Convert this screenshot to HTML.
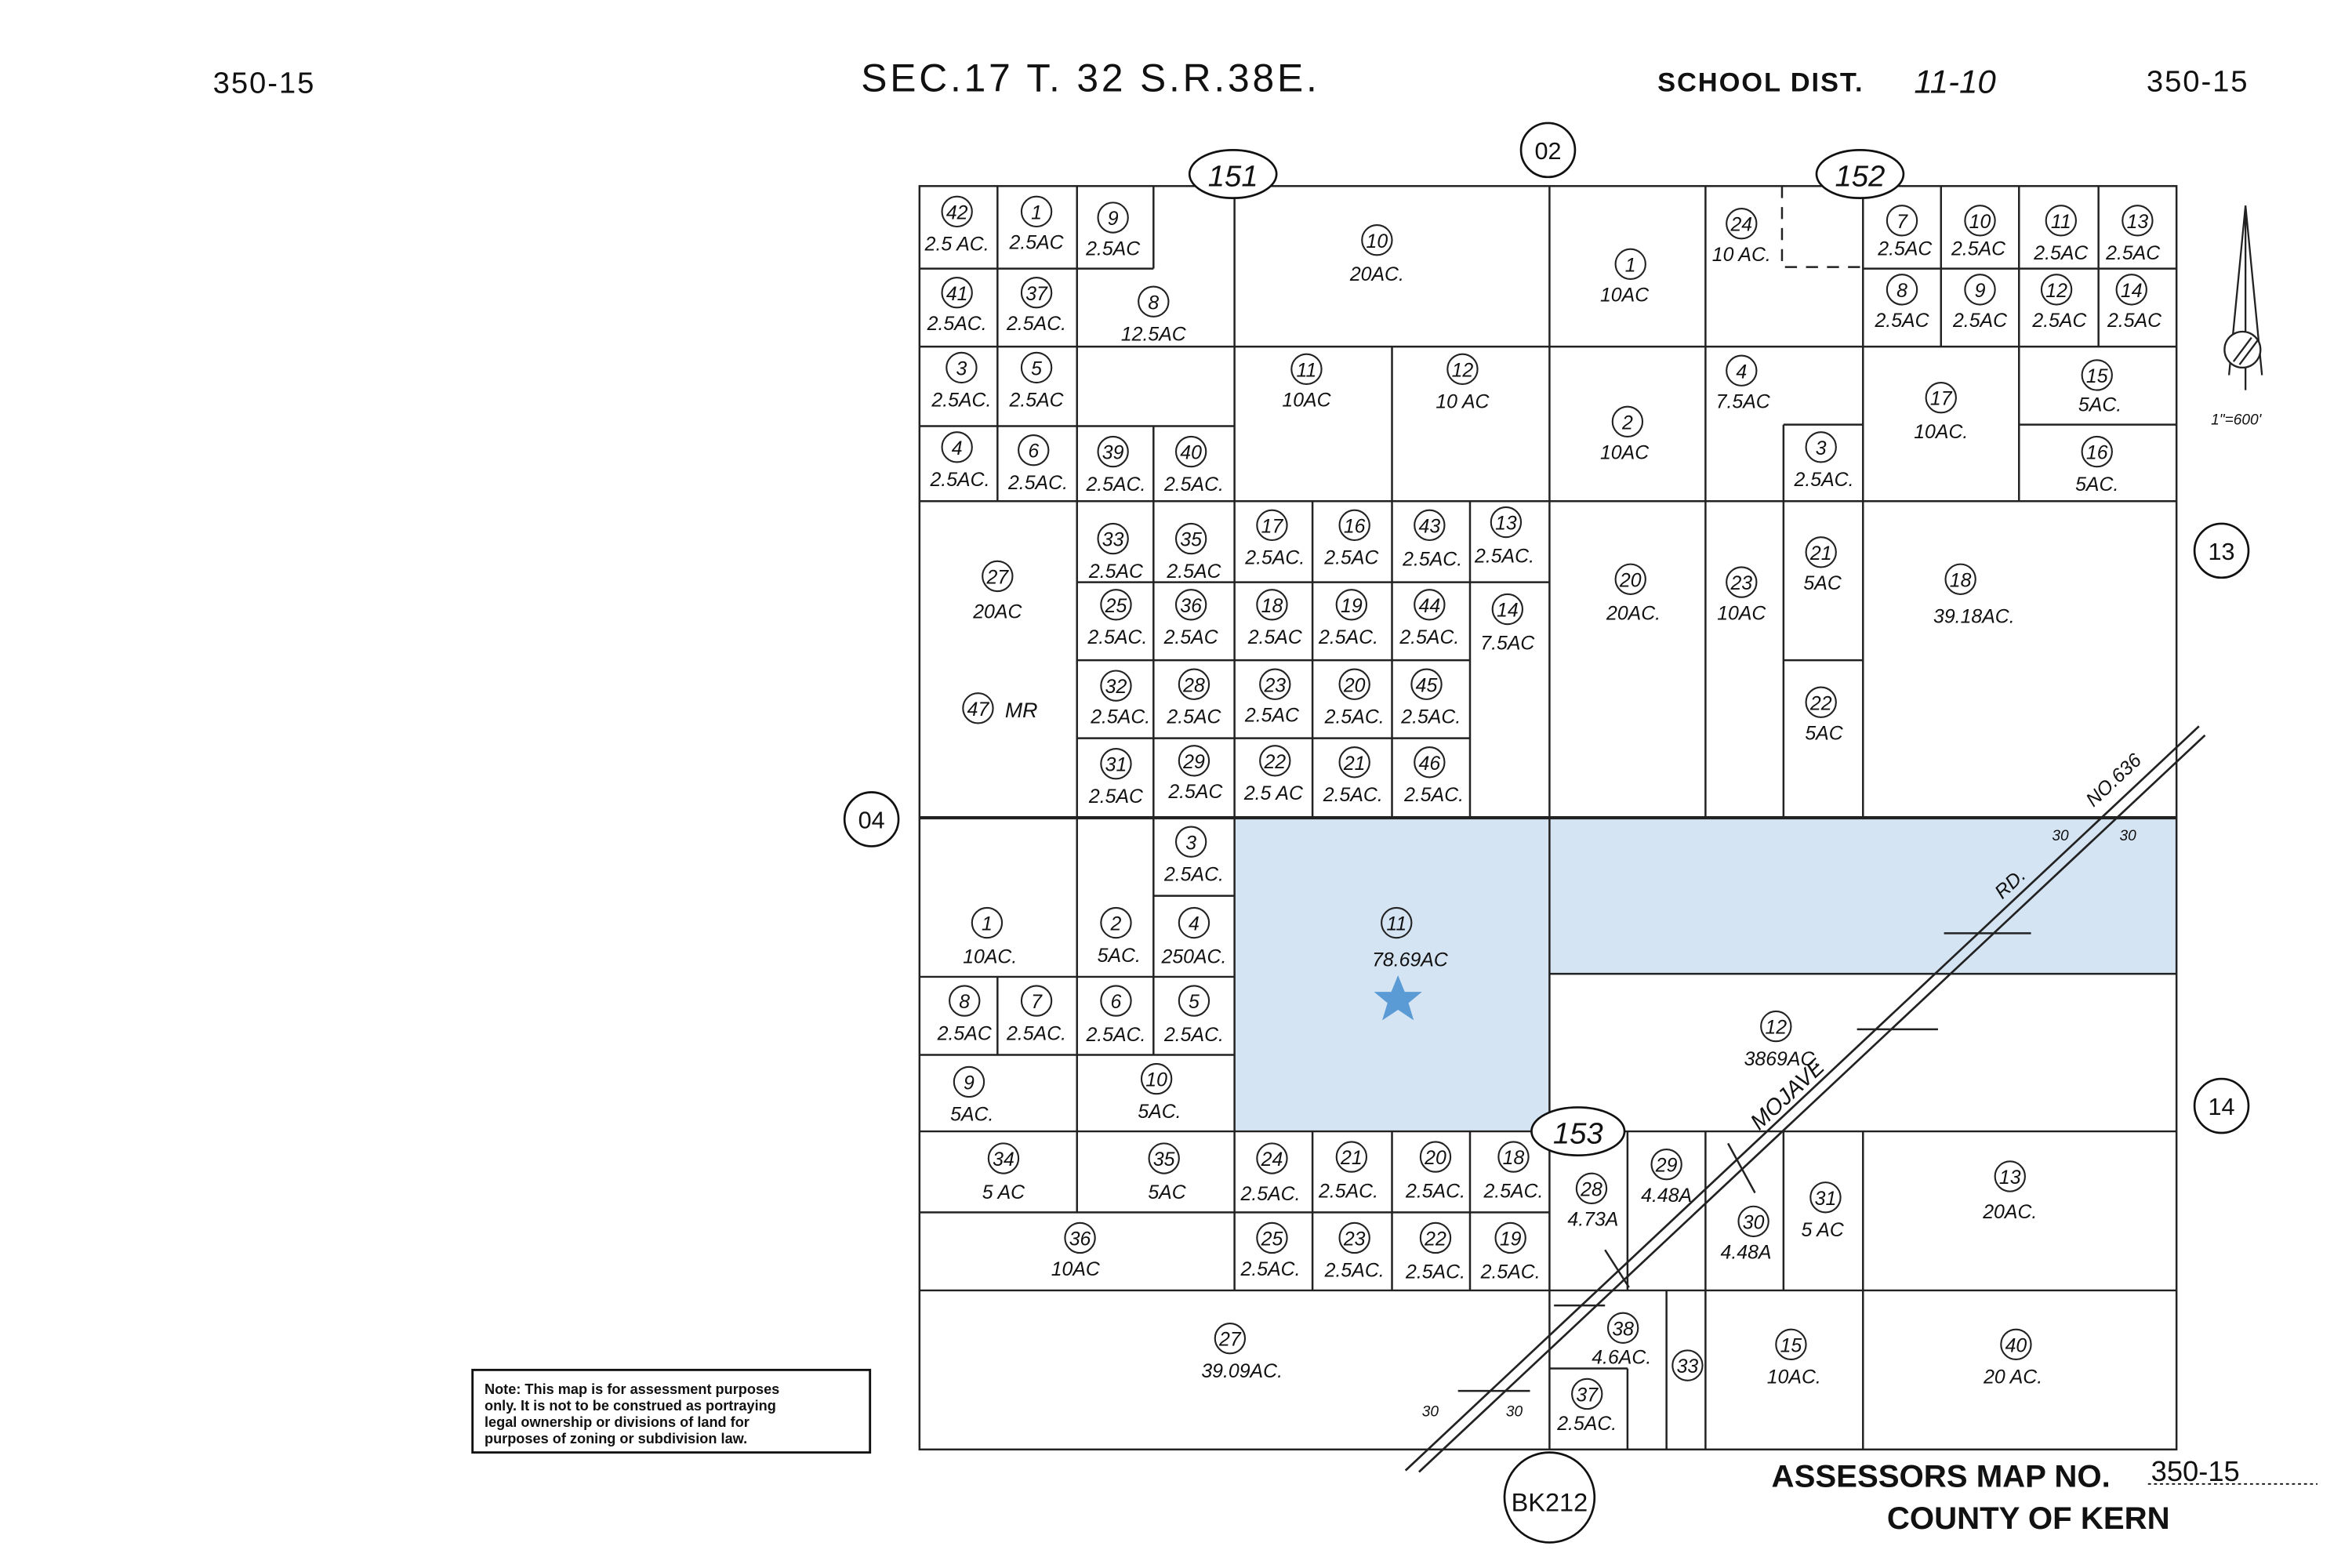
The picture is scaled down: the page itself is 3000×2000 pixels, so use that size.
<!DOCTYPE html>
<html><head><meta charset="utf-8"><style>
html,body{margin:0;padding:0;background:#fff;}
svg{display:block;}
text{font-family:"Liberation Sans",sans-serif;fill:#111;}
.a{font-style:italic;font-size:13px;text-anchor:middle;}
.n{font-style:italic;font-size:13px;text-anchor:middle;}
</style></head><body>
<svg width="3000" height="2000" viewBox="0 0 1568 1045" preserveAspectRatio="none" xmlns="http://www.w3.org/2000/svg">
<rect width="1568" height="1045" fill="#fff"/>
<!-- headings -->
<text x="142" y="62" font-size="20" letter-spacing="1">350-15</text>
<text x="574" y="61" font-size="26" letter-spacing="2">SEC.17 T. 32 S.R.38E.</text>
<text x="1105" y="61" font-size="18" font-weight="bold" letter-spacing="1">SCHOOL DIST.</text>
<text x="1276" y="62" font-size="22" font-style="italic">11-10</text>
<text x="1431" y="61" font-size="20" letter-spacing="1">350-15</text>
<!-- fills -->
<rect x="823" y="545" width="210" height="209" fill="#d5e4f3"/>
<rect x="1033" y="545" width="418" height="104" fill="#d5e4f3"/>
<g stroke="#222" stroke-width="1.3" fill="none">
<rect x="613" y="124" width="838" height="842"/>
<path d="M613 545H1451" stroke-width="2.2"/>
<!-- top left -->
<path d="M613 179H769M769 124V179M665 124V334M718 124V334M613 231H1033M613 284H823M769 284V334M613 334H1451M823 124V754M1033 124V545"/>
<path d="M928 231V334"/>
<!-- 334-545 left -->
<path d="M718 334V545M769 334V545M875 334V545M928 334V545M980 334V545M718 388H1033M718 440H980M718 492H980"/>
<!-- right top -->
<path d="M1137 124V545M1242 124V334M1033 231H1451M1294 124V231M1346 124V334M1399 124V231M1242 179H1451M1346 283H1451M1189 283H1242M1189 283V545M1189 440H1242M1242 334V545"/>
<path d="M1188 124V178H1242" stroke-dasharray="8,6"/>
<!-- lower left -->
<path d="M718 545V754M769 545V703M769 597H823M613 651H823M613 703H823M665 651V703"/>
<path d="M1033 649H1451M1033 545V966M613 754H1451"/>
<!-- bottom -->
<path d="M613 808H1033M718 754V808M823 754V860M875 754V860M928 754V860M980 754V860M613 860H1451"/>
<path d="M1085 754V860M1137 754V966M1189 754V860M1242 754V966M1111 860V966M1033 912H1085M1085 912V966"/>
<!-- road -->
<path d="M937 980L1466 484M946 981L1470 490" stroke-width="1.4"/>
<path d="M1296 622H1354M1238 686H1292M1036 870H1070M972 927H1020M1070 833L1086 858M1152 762L1170 795"/>
</g>
<text x="1343" y="592" class="n" transform="rotate(-43 1343 592)">RD.</text>
<text x="1412" y="523" class="n" transform="rotate(-43 1412 523)">NO.636</text>
<text x="1195" y="733" font-size="15" font-style="italic" text-anchor="middle" transform="rotate(-43 1195 733)">MOJAVE</text>
<text x="1368" y="560" font-size="10" font-style="italic">30</text><text x="1413" y="560" font-size="10" font-style="italic">30</text>
<text x="948" y="944" font-size="10" font-style="italic">30</text><text x="1004" y="944" font-size="10" font-style="italic">30</text>
<!-- star -->
<polygon points="932,650 936.5,661 948,661 939,668.5 942.5,680 932,673 921.5,680 925,668.5 916,661 927.5,661" fill="#5b9bd5"/>
<!-- outer labels -->
<g fill="#fff" stroke="#111" stroke-width="1.4">
<ellipse cx="822" cy="116" rx="29" ry="16"/>
<ellipse cx="1240" cy="116" rx="29" ry="16"/>
<circle cx="1032" cy="100" r="18"/>
<circle cx="581" cy="546" r="18"/>
<circle cx="1481" cy="367" r="18"/>
<circle cx="1481" cy="737" r="18"/>
<ellipse cx="1052" cy="754" rx="31" ry="16"/>
<circle cx="1033" cy="998" r="30"/>
</g>
<text x="822" y="124" font-size="20" font-style="italic" text-anchor="middle">151</text>
<text x="1240" y="124" font-size="20" font-style="italic" text-anchor="middle">152</text>
<text x="1032" y="106" font-size="16" text-anchor="middle">02</text>
<text x="581" y="552" font-size="16" text-anchor="middle">04</text>
<text x="1481" y="373" font-size="16" text-anchor="middle">13</text>
<text x="1481" y="743" font-size="16" text-anchor="middle">14</text>
<text x="1052" y="762" font-size="20" font-style="italic" text-anchor="middle">153</text>
<text x="1033" y="1007" font-size="17" text-anchor="middle">BK212</text>
<!-- compass -->
<g stroke="#222" stroke-width="1.2" fill="none">
<path d="M1497 137L1486 250M1497 137L1508 250M1497 137V260"/>
<circle cx="1495" cy="233" r="12" fill="#fff"/>
<path d="M1489 241L1501 225M1493 243L1505 227"/>
</g>
<text x="1474" y="283" font-size="10" font-style="italic">1"=600'</text>
<!-- note -->
<rect x="315" y="913" width="265" height="55" fill="#fff" stroke="#111" stroke-width="1.5"/>
<text font-size="9.5" font-weight="bold">
<tspan x="323" y="929">Note: This map is for assessment purposes</tspan>
<tspan x="323" y="940">only. It is not to be construed as portraying</tspan>
<tspan x="323" y="951">legal ownership or divisions of land for</tspan>
<tspan x="323" y="962">purposes of zoning or subdivision law.</tspan>
</text>
<text x="1181" y="991" font-size="21" font-weight="bold">ASSESSORS MAP NO.</text>
<text x="1434" y="987" font-size="19">350-15</text>
<path d="M1432 989H1545" stroke="#111" stroke-dasharray="2,2"/>
<text x="1258" y="1019" font-size="21" font-weight="bold">COUNTY OF KERN</text>
<!-- parcels -->
<g id="p" fill="none" stroke="#222" stroke-width="1"></g>
<g>
<g fill="none" stroke="#222" stroke-width="1.1">
<circle cx="638" cy="141" r="10"/><circle cx="691" cy="141" r="10"/><circle cx="742" cy="145" r="10"/><circle cx="638" cy="195" r="10"/><circle cx="691" cy="195" r="10"/><circle cx="769" cy="201" r="10"/><circle cx="641" cy="245" r="10"/><circle cx="691" cy="245" r="10"/><circle cx="638" cy="298" r="10"/><circle cx="689" cy="300" r="10"/><circle cx="742" cy="301" r="10"/><circle cx="794" cy="301" r="10"/>
<circle cx="918" cy="160" r="10"/><circle cx="871" cy="246" r="10"/><circle cx="975" cy="246" r="10"/>
<circle cx="665" cy="384" r="10"/><circle cx="652" cy="472" r="10"/>
<circle cx="742" cy="359" r="10"/><circle cx="794" cy="359" r="10"/><circle cx="848" cy="350" r="10"/><circle cx="903" cy="350" r="10"/><circle cx="953" cy="350" r="10"/><circle cx="1004" cy="348" r="10"/>
<circle cx="744" cy="403" r="10"/><circle cx="794" cy="403" r="10"/><circle cx="848" cy="403" r="10"/><circle cx="901" cy="403" r="10"/><circle cx="953" cy="403" r="10"/><circle cx="1005" cy="406" r="10"/>
<circle cx="744" cy="457" r="10"/><circle cx="796" cy="456" r="10"/><circle cx="850" cy="456" r="10"/><circle cx="903" cy="456" r="10"/><circle cx="951" cy="456" r="10"/>
<circle cx="744" cy="509" r="10"/><circle cx="796" cy="507" r="10"/><circle cx="850" cy="507" r="10"/><circle cx="903" cy="508" r="10"/><circle cx="953" cy="508" r="10"/>
<circle cx="1087" cy="176" r="10"/><circle cx="1161" cy="149" r="10"/><circle cx="1268" cy="147" r="10"/><circle cx="1320" cy="147" r="10"/><circle cx="1374" cy="147" r="10"/><circle cx="1425" cy="147" r="10"/><circle cx="1268" cy="193" r="10"/><circle cx="1320" cy="193" r="10"/><circle cx="1371" cy="193" r="10"/><circle cx="1421" cy="193" r="10"/>
<circle cx="1085" cy="281" r="10"/><circle cx="1161" cy="247" r="10"/><circle cx="1214" cy="298" r="10"/><circle cx="1294" cy="265" r="10"/><circle cx="1398" cy="250" r="10"/><circle cx="1398" cy="301" r="10"/>
<circle cx="1087" cy="386" r="10"/><circle cx="1161" cy="388" r="10"/><circle cx="1214" cy="368" r="10"/><circle cx="1214" cy="468" r="10"/><circle cx="1307" cy="386" r="10"/>
<circle cx="794" cy="561" r="10"/><circle cx="658" cy="615" r="10"/><circle cx="744" cy="615" r="10"/><circle cx="796" cy="615" r="10"/><circle cx="931" cy="615" r="10"/><circle cx="643" cy="667" r="10"/><circle cx="691" cy="667" r="10"/><circle cx="744" cy="667" r="10"/><circle cx="796" cy="667" r="10"/><circle cx="646" cy="721" r="10"/><circle cx="771" cy="719" r="10"/><circle cx="1184" cy="684" r="10"/>
<circle cx="669" cy="772" r="10"/><circle cx="776" cy="772" r="10"/><circle cx="848" cy="772" r="10"/><circle cx="901" cy="771" r="10"/><circle cx="957" cy="771" r="10"/><circle cx="1009" cy="771" r="10"/><circle cx="720" cy="825" r="10"/><circle cx="848" cy="825" r="10"/><circle cx="903" cy="825" r="10"/><circle cx="957" cy="825" r="10"/><circle cx="1007" cy="825" r="10"/><circle cx="1061" cy="792" r="10"/><circle cx="1111" cy="776" r="10"/><circle cx="1169" cy="814" r="10"/><circle cx="1217" cy="798" r="10"/><circle cx="1340" cy="784" r="10"/><circle cx="1082" cy="885" r="10"/><circle cx="1125" cy="910" r="10"/><circle cx="1058" cy="929" r="10"/><circle cx="1194" cy="896" r="10"/><circle cx="1344" cy="896" r="10"/><circle cx="820" cy="892" r="10"/>
</g>
<g class="n">
<text x="638" y="146" class="n">42</text><text x="691" y="146" class="n">1</text><text x="742" y="150" class="n">9</text><text x="638" y="200" class="n">41</text><text x="691" y="200" class="n">37</text><text x="769" y="206" class="n">8</text><text x="641" y="250" class="n">3</text><text x="691" y="250" class="n">5</text><text x="638" y="303" class="n">4</text><text x="689" y="305" class="n">6</text><text x="742" y="306" class="n">39</text><text x="794" y="306" class="n">40</text>
<text x="918" y="165" class="n">10</text><text x="871" y="251" class="n">11</text><text x="975" y="251" class="n">12</text>
<text x="665" y="389" class="n">27</text><text x="652" y="477" class="n">47</text>
<text x="742" y="364" class="n">33</text><text x="794" y="364" class="n">35</text><text x="848" y="355" class="n">17</text><text x="903" y="355" class="n">16</text><text x="953" y="355" class="n">43</text><text x="1004" y="353" class="n">13</text>
<text x="744" y="408" class="n">25</text><text x="794" y="408" class="n">36</text><text x="848" y="408" class="n">18</text><text x="901" y="408" class="n">19</text><text x="953" y="408" class="n">44</text><text x="1005" y="411" class="n">14</text>
<text x="744" y="462" class="n">32</text><text x="796" y="461" class="n">28</text><text x="850" y="461" class="n">23</text><text x="903" y="461" class="n">20</text><text x="951" y="461" class="n">45</text>
<text x="744" y="514" class="n">31</text><text x="796" y="512" class="n">29</text><text x="850" y="512" class="n">22</text><text x="903" y="513" class="n">21</text><text x="953" y="513" class="n">46</text>
<text x="1087" y="181" class="n">1</text><text x="1161" y="154" class="n">24</text><text x="1268" y="152" class="n">7</text><text x="1320" y="152" class="n">10</text><text x="1374" y="152" class="n">11</text><text x="1425" y="152" class="n">13</text><text x="1268" y="198" class="n">8</text><text x="1320" y="198" class="n">9</text><text x="1371" y="198" class="n">12</text><text x="1421" y="198" class="n">14</text>
<text x="1085" y="286" class="n">2</text><text x="1161" y="252" class="n">4</text><text x="1214" y="303" class="n">3</text><text x="1294" y="270" class="n">17</text><text x="1398" y="255" class="n">15</text><text x="1398" y="306" class="n">16</text>
<text x="1087" y="391" class="n">20</text><text x="1161" y="393" class="n">23</text><text x="1214" y="373" class="n">21</text><text x="1214" y="473" class="n">22</text><text x="1307" y="391" class="n">18</text>
<text x="794" y="566" class="n">3</text><text x="658" y="620" class="n">1</text><text x="744" y="620" class="n">2</text><text x="796" y="620" class="n">4</text><text x="931" y="620" class="n">11</text><text x="643" y="672" class="n">8</text><text x="691" y="672" class="n">7</text><text x="744" y="672" class="n">6</text><text x="796" y="672" class="n">5</text><text x="646" y="726" class="n">9</text><text x="771" y="724" class="n">10</text><text x="1184" y="689" class="n">12</text>
<text x="669" y="777" class="n">34</text><text x="776" y="777" class="n">35</text><text x="848" y="777" class="n">24</text><text x="901" y="776" class="n">21</text><text x="957" y="776" class="n">20</text><text x="1009" y="776" class="n">18</text><text x="720" y="830" class="n">36</text><text x="848" y="830" class="n">25</text><text x="903" y="830" class="n">23</text><text x="957" y="830" class="n">22</text><text x="1007" y="830" class="n">19</text><text x="1061" y="797" class="n">28</text><text x="1111" y="781" class="n">29</text><text x="1169" y="819" class="n">30</text><text x="1217" y="803" class="n">31</text><text x="1340" y="789" class="n">13</text><text x="1082" y="890" class="n">38</text><text x="1125" y="915" class="n">33</text><text x="1058" y="934" class="n">37</text><text x="1194" y="901" class="n">15</text><text x="1344" y="901" class="n">40</text><text x="820" y="897" class="n">27</text>
</g>
<text x="670" y="478" font-size="14" font-style="italic">MR</text>
<g class="a">
<text x="638" y="167" class="a">2.5 AC.</text><text x="691" y="166" class="a">2.5AC</text><text x="742" y="170" class="a">2.5AC</text><text x="638" y="220" class="a">2.5AC.</text><text x="691" y="220" class="a">2.5AC.</text><text x="769" y="227" class="a">12.5AC</text><text x="641" y="271" class="a">2.5AC.</text><text x="691" y="271" class="a">2.5AC</text><text x="640" y="324" class="a">2.5AC.</text><text x="692" y="326" class="a">2.5AC.</text><text x="744" y="327" class="a">2.5AC.</text><text x="796" y="327" class="a">2.5AC.</text>
<text x="918" y="187" class="a">20AC.</text><text x="871" y="271" class="a">10AC</text><text x="975" y="272" class="a">10 AC</text>
<text x="665" y="412" class="a">20AC</text>
<text x="744" y="385" class="a">2.5AC</text><text x="796" y="385" class="a">2.5AC</text><text x="850" y="376" class="a">2.5AC.</text><text x="901" y="376" class="a">2.5AC</text><text x="955" y="377" class="a">2.5AC.</text><text x="1003" y="375" class="a">2.5AC.</text>
<text x="745" y="429" class="a">2.5AC.</text><text x="794" y="429" class="a">2.5AC</text><text x="850" y="429" class="a">2.5AC</text><text x="899" y="429" class="a">2.5AC.</text><text x="953" y="429" class="a">2.5AC.</text><text x="1005" y="433" class="a">7.5AC</text>
<text x="747" y="482" class="a">2.5AC.</text><text x="796" y="482" class="a">2.5AC</text><text x="848" y="481" class="a">2.5AC</text><text x="903" y="482" class="a">2.5AC.</text><text x="954" y="482" class="a">2.5AC.</text>
<text x="744" y="535" class="a">2.5AC</text><text x="797" y="532" class="a">2.5AC</text><text x="849" y="533" class="a">2.5 AC</text><text x="902" y="534" class="a">2.5AC.</text><text x="956" y="534" class="a">2.5AC.</text>
<text x="1083" y="201" class="a">10AC</text><text x="1161" y="174" class="a">10 AC.</text><text x="1270" y="170" class="a">2.5AC</text><text x="1319" y="170" class="a">2.5AC</text><text x="1374" y="173" class="a">2.5AC</text><text x="1422" y="173" class="a">2.5AC</text><text x="1268" y="218" class="a">2.5AC</text><text x="1320" y="218" class="a">2.5AC</text><text x="1373" y="218" class="a">2.5AC</text><text x="1423" y="218" class="a">2.5AC</text>
<text x="1083" y="306" class="a">10AC</text><text x="1162" y="272" class="a">7.5AC</text><text x="1216" y="324" class="a">2.5AC.</text><text x="1294" y="292" class="a">10AC.</text><text x="1400" y="274" class="a">5AC.</text><text x="1398" y="327" class="a">5AC.</text>
<text x="1089" y="413" class="a">20AC.</text><text x="1161" y="413" class="a">10AC</text><text x="1215" y="393" class="a">5AC</text><text x="1216" y="493" class="a">5AC</text><text x="1316" y="415" class="a">39.18AC.</text>
<text x="796" y="587" class="a">2.5AC.</text><text x="660" y="642" class="a">10AC.</text><text x="746" y="641" class="a">5AC.</text><text x="796" y="642" class="a">250AC.</text><text x="940" y="644" class="a">78.69AC</text><text x="643" y="693" class="a">2.5AC</text><text x="691" y="693" class="a">2.5AC.</text><text x="744" y="694" class="a">2.5AC.</text><text x="796" y="694" class="a">2.5AC.</text><text x="648" y="747" class="a">5AC.</text><text x="773" y="745" class="a">5AC.</text><text x="1188" y="710" class="a">3869AC.</text>
<text x="669" y="799" class="a">5 AC</text><text x="778" y="799" class="a">5AC</text><text x="847" y="800" class="a">2.5AC.</text><text x="899" y="798" class="a">2.5AC.</text><text x="957" y="798" class="a">2.5AC.</text><text x="1009" y="798" class="a">2.5AC.</text><text x="717" y="850" class="a">10AC</text><text x="847" y="850" class="a">2.5AC.</text><text x="903" y="851" class="a">2.5AC.</text><text x="957" y="852" class="a">2.5AC.</text><text x="1007" y="852" class="a">2.5AC.</text><text x="1062" y="817" class="a">4.73A</text><text x="1111" y="801" class="a">4.48A</text><text x="1164" y="839" class="a">4.48A</text><text x="1215" y="824" class="a">5 AC</text><text x="1340" y="812" class="a">20AC.</text><text x="1081" y="909" class="a">4.6AC.</text><text x="1058" y="953" class="a">2.5AC.</text><text x="1196" y="922" class="a">10AC.</text><text x="1342" y="922" class="a">20 AC.</text><text x="828" y="918" class="a">39.09AC.</text>
</g>
</g>
</svg>
</body></html>
